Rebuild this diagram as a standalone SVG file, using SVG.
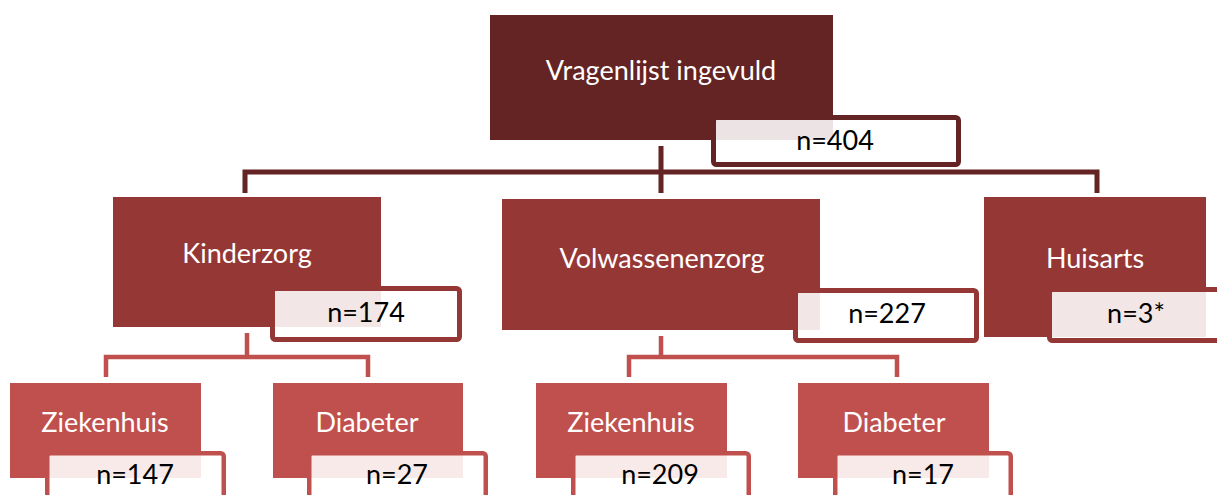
<svg xmlns="http://www.w3.org/2000/svg" width="1217" height="495" viewBox="0 0 1217 495">
<style>
text{font-family:Lato,"Open Sans","Liberation Sans",sans-serif;font-size:27px;text-anchor:middle}
.t{fill:#ffffff}
.n{fill:#000000}
.l1{fill:#632423}
.l2{fill:#953735}
.l3{fill:#c0504d}
.b{fill:#ffffff;fill-opacity:0.88;rx:3}
.b1{stroke:#632423;stroke-width:5}
.b2{stroke:#953735;stroke-width:5}
.b3{stroke:#c0504d;stroke-width:4.5}
.c1{fill:none;stroke:#632423;stroke-width:5}
.c3{fill:none;stroke:#c0504d;stroke-width:4.5}
</style>
<g id="connectors">
<path class="c1" d="M661 146V193M245 193V172H1097V193"/>
<path class="c3" d="M247 333V357M106 377V357H368V377"/>
<path class="c3" d="M661 336V357M629 377V357H897V377"/>
</g>
<g id="node-vragenlijst">
<rect class="l1" x="490" y="15" width="343" height="125"/>
<text class="t" x="661" y="80">Vragenlijst ingevuld</text>
<rect class="b b1" x="713.5" y="117.5" width="245" height="47"/>
<text class="n" x="835" y="150">n=404</text>
</g>
<g id="node-kinderzorg">
<rect class="l2" x="113" y="197" width="268" height="130"/>
<text class="t" x="247" y="263">Kinderzorg</text>
<rect class="b b2" x="272.5" y="288.5" width="187" height="51"/>
<text class="n" x="366" y="322">n=174</text>
</g>
<g id="node-volwassenenzorg">
<rect class="l2" x="502" y="199" width="318" height="131"/>
<text class="t" x="662" y="268">Volwassenenzorg</text>
<rect class="b b2" x="795.5" y="290.5" width="181" height="50"/>
<text class="n" x="887" y="323">n=227</text>
</g>
<g id="node-huisarts">
<rect class="l2" x="984" y="197" width="222" height="140"/>
<text class="t" x="1095" y="268">Huisarts</text>
<rect class="b b2" x="1049.5" y="289.5" width="200" height="51"/>
<text class="n" x="1136" y="323">n=3*</text>
</g>
<g id="node-kind-ziekenhuis">
<rect class="l3" x="10" y="383" width="191" height="95"/>
<text class="t" x="105" y="432">Ziekenhuis</text>
<rect class="b b3" x="47.25" y="453.25" width="176.5" height="60"/>
<text class="n" x="135" y="484">n=147</text>
</g>
<g id="node-kind-diabeter">
<rect class="l3" x="273" y="383" width="190" height="95"/>
<text class="t" x="367" y="432">Diabeter</text>
<rect class="b b3" x="309.25" y="453.25" width="176.5" height="60"/>
<text class="n" x="397" y="484">n=27</text>
</g>
<g id="node-volw-ziekenhuis">
<rect class="l3" x="536" y="383" width="191" height="95"/>
<text class="t" x="631" y="432">Ziekenhuis</text>
<rect class="b b3" x="573.25" y="453.25" width="175.5" height="60"/>
<text class="n" x="660" y="484">n=209</text>
</g>
<g id="node-volw-diabeter">
<rect class="l3" x="798" y="383" width="191" height="95"/>
<text class="t" x="894" y="432">Diabeter</text>
<rect class="b b3" x="835.25" y="453.25" width="175.5" height="60"/>
<text class="n" x="923" y="484">n=17</text>
</g>
</svg>
